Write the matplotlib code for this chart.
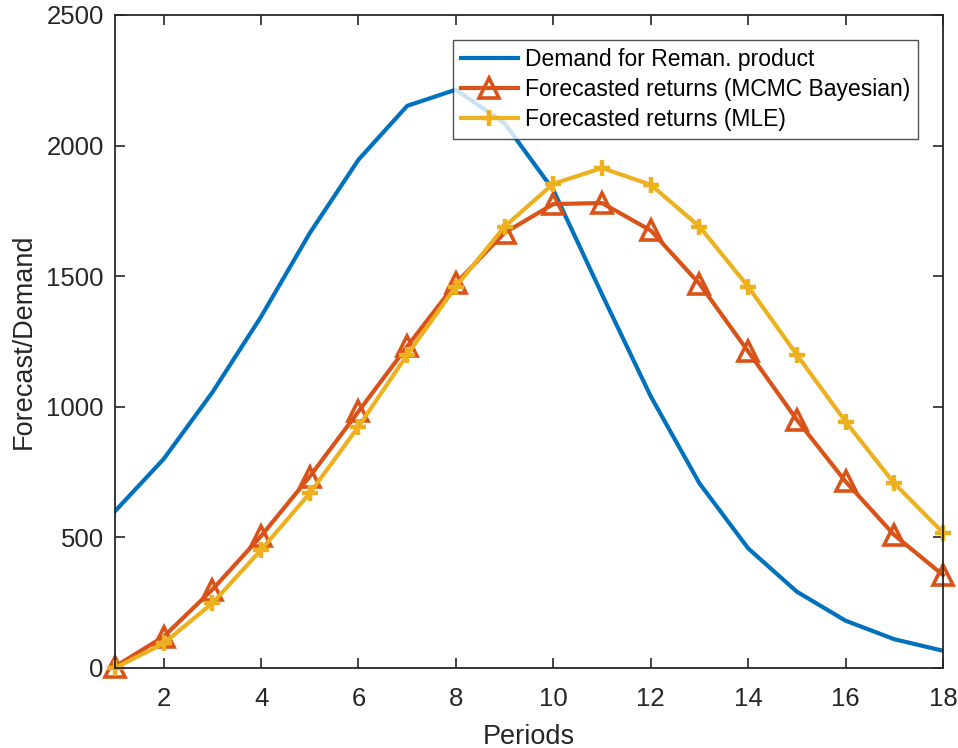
import matplotlib
matplotlib.use("Agg")
import matplotlib.pyplot as plt

periods = list(range(1, 19))
demand = [600, 800, 1055, 1345, 1665, 1946, 2152, 2214, 2085, 1830,
          1430, 1040, 707, 458, 292, 181, 110, 66]
mcmc = [5, 120, 300, 505, 733, 982, 1231, 1473, 1666, 1776,
        1780, 1675, 1471, 1212, 950, 714, 509, 356]
mle = [0, 94, 248, 452, 669, 924, 1199, 1460, 1690, 1854,
       1914, 1850, 1690, 1460, 1199, 943, 707, 518]
labels = ["Demand for Reman. product",
          "Forecasted returns (MCMC Bayesian)",
          "Forecasted returns (MLE)"]

plt.rcParams['font.family'] = ['Liberation Sans', 'DejaVu Sans']

c_blue = (0, 0.447, 0.741)
c_orange = (0.85, 0.325, 0.098)
c_yellow = (0.929, 0.694, 0.125)
dark = (0.15, 0.15, 0.15)

fig = plt.figure(figsize=(9.58, 7.48), dpi=100)
ax = fig.add_axes([0.120, 0.107, 0.8643, 0.873])

ax.plot(periods, demand, color=c_blue, lw=3.0, label=labels[0])
ax.plot(periods, mcmc, color=c_orange, lw=3.0, marker='^', ms=14,
        mfc='none', mec=c_orange, mew=2.6, label=labels[1], clip_on=False)
ax.plot(periods, mle, color=c_yellow, lw=3.0, marker='+', ms=11.5,
        mec=c_yellow, mew=3.2, label=labels[2], clip_on=False)

ax.set_xlim(1, 18)
ax.set_ylim(0, 2500)
ax.set_xticks(range(2, 19, 2))
ax.set_yticks(range(0, 2501, 500))
ax.tick_params(direction='in', length=7, width=1.2, top=True, right=True,
               labelsize=18.5, colors=dark)
ax.tick_params(axis='x', pad=14)
ax.tick_params(axis='y', pad=8)
for s in ax.spines.values():
    s.set_linewidth(1.3)
    s.set_color(dark)

ax.set_xlabel("Periods", fontsize=19.5, color=dark, labelpad=9)
ax.set_ylabel("Forecast/Demand", fontsize=19.5, color=dark, labelpad=7)

leg = ax.legend(loc='upper right', bbox_to_anchor=(0.970, 0.962), fontsize=16.5,
                frameon=True, fancybox=False, edgecolor=dark,
                handlelength=2.5, handletextpad=0.3, labelspacing=0.32,
                borderpad=0.35, borderaxespad=0)
leg.get_frame().set_linewidth(1.0)

fig.savefig("out.png", dpi=100)
